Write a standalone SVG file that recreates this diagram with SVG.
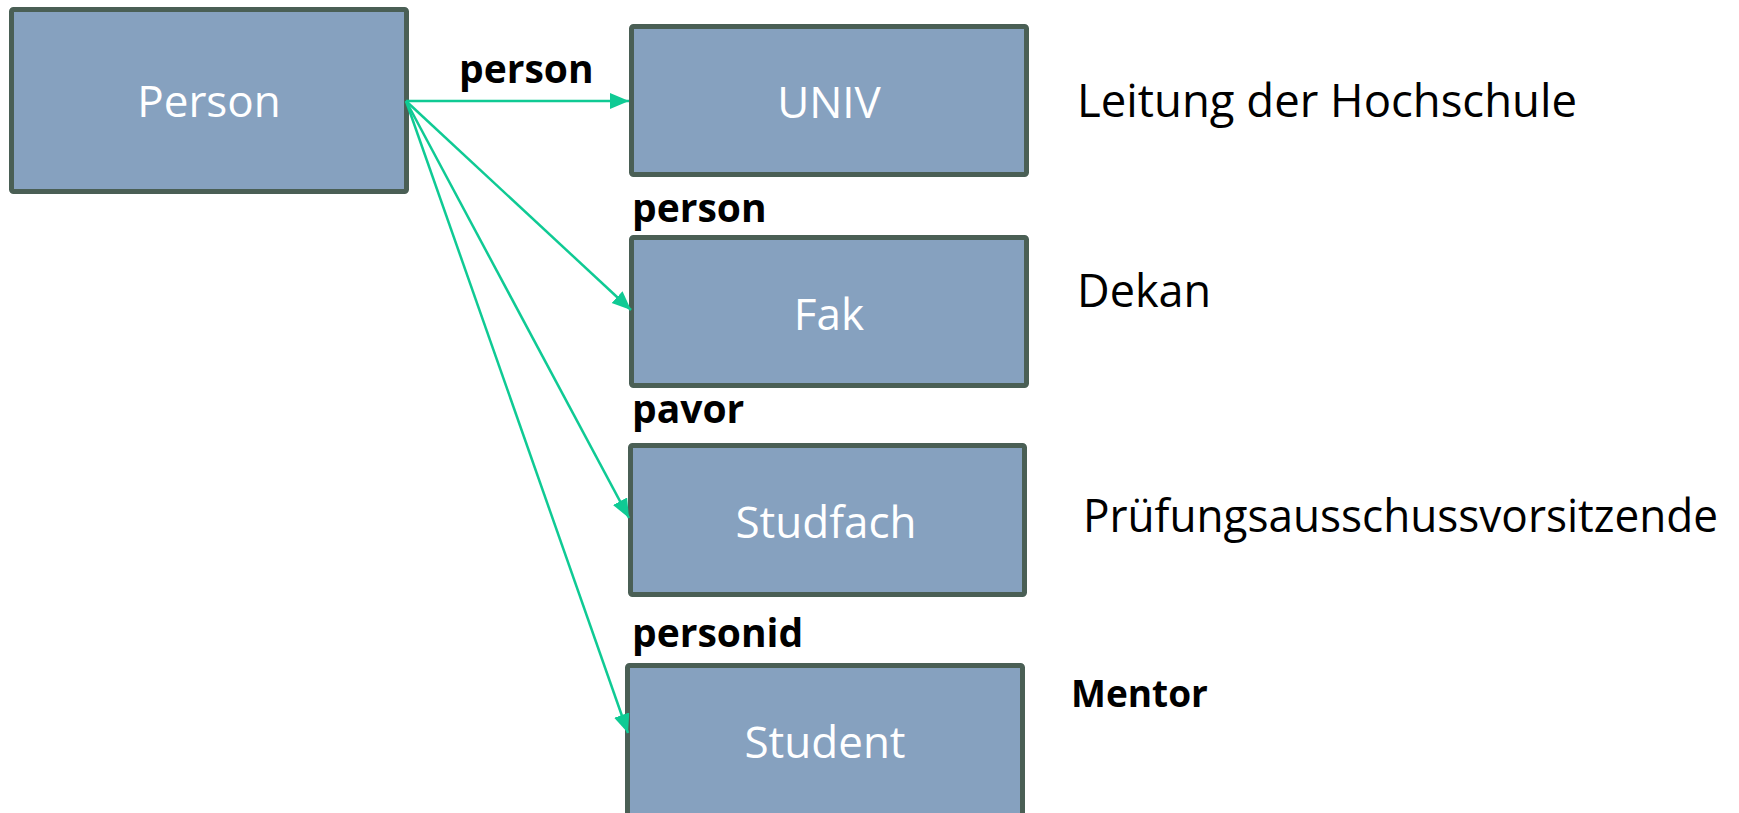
<svg xmlns="http://www.w3.org/2000/svg" width="1739" height="813" viewBox="0 0 1739 813">
<style>
.box{fill:#86a1bf;stroke:#4a5f55;stroke-width:5;}
.bt{font-family:"Open Sans","Noto Sans",sans-serif;font-size:44px;fill:#ffffff;text-anchor:middle;}
.lbl{font-family:"Open Sans","Noto Sans",sans-serif;font-size:39px;font-weight:bold;fill:#000000;}
.note{font-family:"Open Sans","Noto Sans",sans-serif;font-size:45px;fill:#000000;}
.conn{stroke:#0fca94;stroke-width:2.5;fill:none;marker-end:url(#ah);}
</style>
<defs>
<marker id="ah" markerUnits="userSpaceOnUse" markerWidth="22" markerHeight="18" refX="19" refY="8" orient="auto">
<path d="M0,0 L19,8 L0,16 Z" fill="#0fca94"/>
</marker>
</defs>
<rect width="1739" height="813" fill="#ffffff"/>
<g id="node-person">
<rect class="box" x="11.5" y="9.5" width="395" height="182" rx="2"/>
<text class="bt" x="209" y="117">Person</text>
</g>
<g id="node-univ">
<rect class="box" x="631.5" y="26.5" width="395" height="148" rx="2"/>
<text class="bt" x="829" y="118">UNIV</text>
</g>
<g id="node-fak">
<rect class="box" x="631.5" y="237.5" width="395" height="148" rx="2"/>
<text class="bt" x="829" y="330">Fak</text>
</g>
<g id="node-studfach">
<rect class="box" x="630.5" y="445.5" width="394" height="149" rx="2"/>
<text class="bt" x="826" y="538">Studfach</text>
</g>
<g id="node-student">
<rect class="box" x="627.5" y="665.5" width="395" height="150" rx="2"/>
<text class="bt" x="825" y="758">Student</text>
</g>
<g id="connectors">
<line class="conn" x1="406" y1="101" x2="629" y2="101"/>
<line class="conn" x1="406" y1="101" x2="631" y2="310"/>
<line class="conn" x1="406" y1="101" x2="629" y2="518"/>
<line class="conn" x1="406" y1="101" x2="628" y2="733"/>
</g>
<g id="labels">
<text class="lbl" x="459" y="83">person</text>
<text class="lbl" x="632" y="222">person</text>
<text class="lbl" x="632" y="423">pavor</text>
<text class="lbl" x="632" y="647">personid</text>
</g>
<g id="notes">
<text class="note" x="1077" y="117" textLength="500" lengthAdjust="spacingAndGlyphs">Leitung der Hochschule</text>
<text class="note" x="1077" y="307">Dekan</text>
<text class="note" x="1083" y="532" textLength="635" lengthAdjust="spacingAndGlyphs">Prüfungsausschussvorsitzende</text>
<text class="note" x="1071" y="707" style="font-size:37px;font-weight:bold">Mentor</text>
</g>
</svg>
